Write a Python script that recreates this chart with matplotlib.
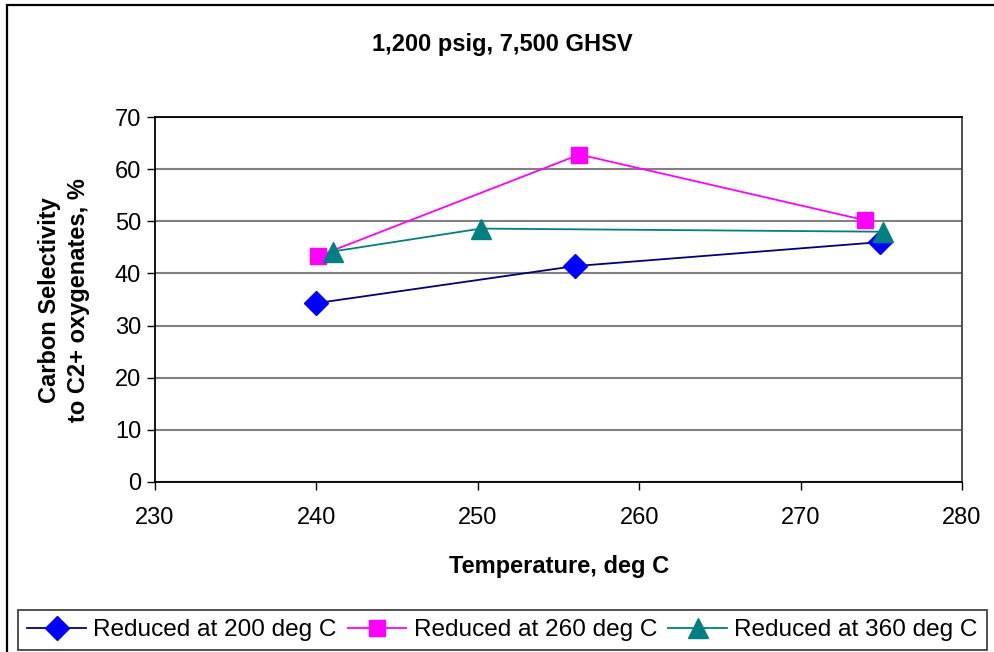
import matplotlib
matplotlib.use("Agg")
import matplotlib.pyplot as plt
from matplotlib.patches import Rectangle

plt.rcParams['font.family'] = ['Liberation Sans', 'DejaVu Sans']

# Data
temp_200 = [240.0, 256.0, 274.9]
sel_200 = [34.3, 41.4, 46.0]
temp_260 = [240.1, 256.3, 274.0]
sel_260 = [43.3, 62.8, 50.2]
temp_360 = [241.0, 250.2, 275.1]
sel_360 = [44.2, 48.6, 48.0]

series_labels = ["Reduced at 200 deg C", "Reduced at 260 deg C", "Reduced at 360 deg C"]
x_ticks = [230, 240, 250, 260, 270, 280]
y_ticks = [0, 10, 20, 30, 40, 50, 60, 70]

W, H = 995, 652
FS = 17
fig = plt.figure(figsize=(W / 100, H / 100), dpi=100)
fig.patch.set_facecolor('white')

# Outer chart frame
fig.add_artist(Rectangle((7 / W, -0.05), 1.2, 1 - 5 / H + 0.05, transform=fig.transFigure,
                         fill=False, edgecolor='black', linewidth=1.6))

left, right, top, bottom = 155, 962, 117, 482
ax = fig.add_axes([left / W, 1 - bottom / H, (right - left) / W, (bottom - top) / H])

ax.plot(temp_200, sel_200, color='#000080', linewidth=1.3, marker='D', markersize=12,
        markerfacecolor='#0000FF', markeredgecolor='#0000FF', label=series_labels[0], zorder=3)
ax.plot(temp_260, sel_260, color='#FF00FF', linewidth=1.3, marker='s', markersize=12,
        markerfacecolor='#FF00FF', markeredgecolor='#FF00FF', label=series_labels[1], zorder=3)
ax.plot(temp_360, sel_360, color='#008080', linewidth=1.3, marker='^', markersize=14,
        markerfacecolor='#008080', markeredgecolor='#008080', label=series_labels[2], zorder=3)

ax.set_xlim(230, 280)
ax.set_ylim(0, 70)
ax.set_xticks(x_ticks)
ax.set_yticks(y_ticks)
ax.yaxis.grid(True, color='#808080', linewidth=1.5)
ax.set_axisbelow(True)
for side in ['left', 'bottom', 'top']:
    ax.spines[side].set_color('black')
    ax.spines[side].set_linewidth(1.3)
ax.spines['right'].set_color('#404040')
ax.spines['right'].set_linewidth(1.3)
ax.tick_params(direction='out', length=6, width=1, labelsize=FS, color='black')
ax.tick_params(axis='x', pad=12)
ax.tick_params(axis='y', pad=4)

# Axis titles and chart title
fig.text(559 / W, 1 - 567 / H, "Temperature, deg C", ha='center', va='center',
         fontsize=FS, fontweight='bold')
fig.text(64 / W, 1 - 300 / H, "Carbon Selectivity\nto C2+ oxygenates, %", ha='center',
         va='center', rotation=90, fontsize=FS, fontweight='bold', linespacing=1.35)
fig.text(502 / W, 1 - 45 / H, "1,200 psig, 7,500 GHSV",
         ha='center', va='center', fontsize=FS, fontweight='bold')

leg = fig.legend(loc='center', bbox_to_anchor=(502.5 / W, 1 - 630 / H), ncol=3,
                 fontsize=17.6, frameon=True, fancybox=False,
                 handlelength=2.4, handletextpad=0.3, columnspacing=0.45, borderpad=0.38,
                 borderaxespad=0)
leg.get_frame().set_edgecolor('black')
leg.get_frame().set_linewidth(1.2)

fig.savefig("out.png", dpi=100, facecolor='white')
